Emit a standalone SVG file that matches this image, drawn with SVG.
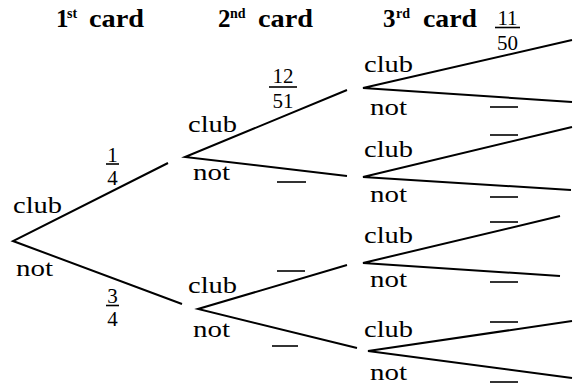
<svg xmlns="http://www.w3.org/2000/svg" width="573" height="384" viewBox="0 0 573 384">
<style>
.br{stroke:#000;stroke-width:2;fill:none;stroke-linecap:butt}
.bar{stroke:#000;stroke-width:1.6}
</style>
<rect width="573" height="384" fill="#fff"/>
<g id="titles" font-family="Liberation Serif" font-weight="bold" fill="#000">
<text x="56" y="27" font-size="25">1</text><text x="67" y="18" font-size="14">st</text><text x="89" y="27" font-size="25" textLength="55" lengthAdjust="spacingAndGlyphs">card</text>
<text x="218" y="27" font-size="25">2</text><text x="230" y="18" font-size="14">nd</text><text x="258" y="27" font-size="25" textLength="55" lengthAdjust="spacingAndGlyphs">card</text>
<text x="383" y="27" font-size="25">3</text><text x="396" y="18" font-size="14">rd</text><text x="423" y="27" font-size="25" textLength="54" lengthAdjust="spacingAndGlyphs">card</text>
</g>
<g id="connectors">
<path class="br" d="M168,163 L13,241 L182,304"/>
<path class="br" d="M347,90 L185,157 L347,176"/>
<path class="br" d="M347,265 L198,309 L357,348"/>
<path class="br" d="M572,40 L363,88 L572,102"/>
<path class="br" d="M572,127 L363,177 L571,190"/>
<path class="br" d="M560,216 L363,263 L560,276"/>
<path class="br" d="M572,321 L368,351 L572,378"/>
</g>
<g id="node-root" font-family="Liberation Serif" font-size="23" fill="#000">
<text x="13" y="213" textLength="49" lengthAdjust="spacingAndGlyphs">club</text>
<text x="16" y="276" textLength="37" lengthAdjust="spacingAndGlyphs">not</text>
<text x="112.5" y="162" font-size="21" text-anchor="middle">1</text><line class="bar" x1="106" y1="164" x2="119" y2="164"/><text x="112.5" y="184.5" font-size="21" text-anchor="middle">4</text>
<text x="112.5" y="303" font-size="21" text-anchor="middle">3</text><line class="bar" x1="106" y1="305.5" x2="119" y2="305.5"/><text x="112.5" y="326" font-size="21" text-anchor="middle">4</text>
</g>
<g id="node-club2" font-family="Liberation Serif" font-size="23" fill="#000">
<text x="188" y="132" textLength="49" lengthAdjust="spacingAndGlyphs">club</text>
<text x="193" y="180" textLength="37" lengthAdjust="spacingAndGlyphs">not</text>
<text x="283" y="83" font-size="21" text-anchor="middle">12</text><line class="bar" x1="269" y1="87" x2="297" y2="87"/><text x="283" y="108" font-size="21" text-anchor="middle">51</text>
<line class="bar" x1="277" y1="182" x2="306" y2="182"/>
</g>
<g id="node-not2" font-family="Liberation Serif" font-size="23" fill="#000">
<text x="188" y="293" textLength="49" lengthAdjust="spacingAndGlyphs">club</text>
<text x="193" y="337" textLength="37" lengthAdjust="spacingAndGlyphs">not</text>
<line class="bar" x1="277" y1="271" x2="305" y2="271"/>
<line class="bar" x1="272" y1="346" x2="298" y2="346"/>
</g>
<g id="node-cc3" font-family="Liberation Serif" font-size="23" fill="#000">
<text x="364" y="72" textLength="49" lengthAdjust="spacingAndGlyphs">club</text>
<text x="370" y="115" textLength="37" lengthAdjust="spacingAndGlyphs">not</text>
<text x="507.5" y="25" font-size="21" text-anchor="middle">11</text><line class="bar" x1="495" y1="27.5" x2="520" y2="27.5"/><text x="507.5" y="50" font-size="21" text-anchor="middle">50</text>
<line class="bar" x1="490" y1="107" x2="518" y2="107"/>
</g>
<g id="node-cn3" font-family="Liberation Serif" font-size="23" fill="#000">
<text x="364" y="157" textLength="49" lengthAdjust="spacingAndGlyphs">club</text>
<text x="370" y="202" textLength="37" lengthAdjust="spacingAndGlyphs">not</text>
<line class="bar" x1="490" y1="135" x2="518" y2="135"/>
<line class="bar" x1="490" y1="197" x2="518" y2="197"/>
</g>
<g id="node-nc3" font-family="Liberation Serif" font-size="23" fill="#000">
<text x="364" y="243" textLength="49" lengthAdjust="spacingAndGlyphs">club</text>
<text x="370" y="287" textLength="37" lengthAdjust="spacingAndGlyphs">not</text>
<line class="bar" x1="490" y1="222" x2="518" y2="222"/>
<line class="bar" x1="490" y1="282" x2="518" y2="282"/>
</g>
<g id="node-nn3" font-family="Liberation Serif" font-size="23" fill="#000">
<text x="364" y="337" textLength="49" lengthAdjust="spacingAndGlyphs">club</text>
<text x="370" y="380" textLength="37" lengthAdjust="spacingAndGlyphs">not</text>
<line class="bar" x1="490" y1="322" x2="518" y2="322"/>
<line class="bar" x1="490" y1="382" x2="518" y2="382"/>
</g>
</svg>
